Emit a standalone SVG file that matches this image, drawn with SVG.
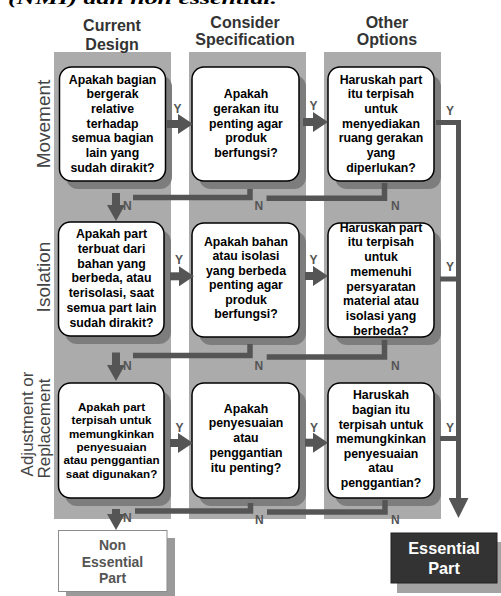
<svg xmlns="http://www.w3.org/2000/svg" width="501" height="596" viewBox="0 0 501 596">
<style>
.col{fill:#ababab}
.hdr{font-family:"Liberation Sans",Arial,sans-serif;font-weight:bold;font-size:16px;fill:#333;text-anchor:middle}
.lane{font-family:"Liberation Sans",Arial,sans-serif;font-size:19px;fill:#444;text-anchor:middle}
.lane2{font-family:"Liberation Sans",Arial,sans-serif;font-size:17px;fill:#444;text-anchor:middle}
.sh{fill:#7d7d7d}
.box{fill:#fff;stroke:#000;stroke-width:1.5}
.t{font-family:"Liberation Sans",Arial,sans-serif;font-weight:bold;font-size:12.3px;fill:#000;text-anchor:middle}
.lbl{font-family:"Liberation Sans",Arial,sans-serif;font-weight:bold;font-size:12px;fill:#555}
.y{stroke:#555;stroke-width:8;fill:none}
.n{stroke:#555;stroke-width:5.5;fill:none}
.e{stroke:#555;stroke-width:5;fill:none}
.cap{font-family:"Liberation Serif","Times New Roman",serif;font-style:italic;font-weight:bold;font-size:17px;fill:#000}
</style>
<defs>
<marker id="ahY" markerUnits="userSpaceOnUse" markerWidth="15" markerHeight="20" refX="1" refY="10" orient="auto"><path d="M0,0 L15,10 L0,20 z" fill="#555"/></marker>
<marker id="ahN" markerUnits="userSpaceOnUse" markerWidth="16" markerHeight="18" refX="1" refY="9" orient="auto"><path d="M0,0 L16,9 L0,18 z" fill="#555"/></marker>
<marker id="ahE" markerUnits="userSpaceOnUse" markerWidth="20" markerHeight="20" refX="1" refY="10" orient="auto"><path d="M0,0 L20,10 L0,20 z" fill="#555"/></marker>
</defs>
<rect width="501" height="596" fill="#fff"/>
<text class="cap" x="8" y="4" textLength="269" lengthAdjust="spacingAndGlyphs">(NMI) dan non essential.</text>

<g id="lanes">
<rect class="col" x="54" y="52" width="117" height="467"/>
<rect class="col" x="189" y="52" width="117" height="467"/>
<rect class="col" x="324" y="52" width="117" height="467"/>
</g>
<g id="headers">
<text class="hdr" x="112" y="31">Current</text>
<text class="hdr" x="112" y="49.5">Design</text>
<text class="hdr" x="245" y="28">Consider</text>
<text class="hdr" x="245" y="45">Specification</text>
<text class="hdr" x="387" y="28">Other</text>
<text class="hdr" x="387" y="45">Options</text>
<text class="lane" transform="translate(50,124) rotate(-90)">Movement</text>
<text class="lane" transform="translate(50,277) rotate(-90)">Isolation</text>
<text class="lane2" transform="translate(33,424) rotate(-90)">Adjustment or</text>
<text class="lane2" transform="translate(50,428.5) rotate(-90)">Replacement</text>
</g>

<g id="r1c1">
<rect class="sh" x="66" y="75" width="106" height="114" rx="12"/>
<rect class="box" x="59.5" y="67" width="106" height="114" rx="12"/>
<text class="t"><tspan x="112.5" y="83.5">Apakah bagian</tspan><tspan x="112.5" y="98.2">bergerak</tspan><tspan x="112.5" y="112.9">relative</tspan><tspan x="112.5" y="127.6">terhadap</tspan><tspan x="112.5" y="142.3">semua bagian</tspan><tspan x="112.5" y="157">lain yang</tspan><tspan x="112.5" y="171.7">sudah dirakit?</tspan></text>
</g>
<g id="r1c2">
<rect class="sh" x="199" y="75" width="107" height="114" rx="12"/>
<rect class="box" x="192" y="67" width="107" height="114" rx="12"/>
<text class="t"><tspan x="246" y="98.3">Apakah</tspan><tspan x="246" y="113">gerakan itu</tspan><tspan x="246" y="127.7">penting agar</tspan><tspan x="246" y="142.4">produk</tspan><tspan x="246" y="157.1">berfungsi?</tspan></text>
</g>
<g id="r1c3">
<rect class="sh" x="335" y="75" width="106" height="114" rx="12"/>
<rect class="box" x="328" y="67" width="106" height="114" rx="12"/>
<text class="t"><tspan x="381" y="83.5">Haruskah part</tspan><tspan x="381" y="98.2">itu terpisah</tspan><tspan x="381" y="112.9">untuk</tspan><tspan x="381" y="127.6">menyediakan</tspan><tspan x="381" y="142.3">ruang gerakan</tspan><tspan x="381" y="157">yang</tspan><tspan x="381" y="171.7">diperlukan?</tspan></text>
</g>

<g id="r2c1">
<rect class="sh" x="65" y="230" width="106" height="114" rx="12"/>
<rect class="box" x="58.5" y="222" width="105.5" height="114" rx="12"/>
<text class="t"><tspan x="111.5" y="238">Apakah part</tspan><tspan x="111.5" y="252.8">terbuat dari</tspan><tspan x="111.5" y="267.6">bahan yang</tspan><tspan x="111.5" y="282.4">berbeda, atau</tspan><tspan x="111.5" y="297.2">terisolasi, saat</tspan><tspan x="111.5" y="312">semua part lain</tspan><tspan x="111.5" y="326.8">sudah dirakit?</tspan></text>
</g>
<g id="r2c2">
<rect class="sh" x="199" y="231" width="107" height="114" rx="12"/>
<rect class="box" x="192" y="223" width="107" height="114" rx="12"/>
<text class="t"><tspan x="246" y="245.7">Apakah bahan</tspan><tspan x="246" y="260.2">atau isolasi</tspan><tspan x="246" y="274.7">yang berbeda</tspan><tspan x="246" y="289.2">penting agar</tspan><tspan x="246" y="303.7">produk</tspan><tspan x="246" y="318.2">berfungsi?</tspan></text>
</g>
<g id="r2c3">
<rect class="sh" x="335" y="231" width="106" height="114" rx="12"/>
<rect class="box" x="328" y="223" width="106" height="114" rx="12"/>
<text class="t"><tspan x="381" y="231.7">Haruskah part</tspan><tspan x="381" y="246.45">itu terpisah</tspan><tspan x="381" y="261.2">untuk</tspan><tspan x="381" y="275.95">memenuhi</tspan><tspan x="381" y="290.7">persyaratan</tspan><tspan x="381" y="305.45">material atau</tspan><tspan x="381" y="320.2">isolasi yang</tspan><tspan x="381" y="334.95">berbeda?</tspan></text>
</g>

<g id="r3c1">
<rect class="sh" x="65" y="391" width="106" height="115" rx="12"/>
<rect class="box" x="58.5" y="383" width="105.5" height="115" rx="12"/>
<text class="t" style="font-size:11.6px"><tspan x="111.5" y="411">Apakah part</tspan><tspan x="111.5" y="424.3">terpisah untuk</tspan><tspan x="111.5" y="437.6">memungkinkan</tspan><tspan x="111.5" y="450.9">penyesuaian</tspan><tspan x="111.5" y="464.2">atau penggantian</tspan><tspan x="111.5" y="477.5">saat digunakan?</tspan></text>
</g>
<g id="r3c2">
<rect class="sh" x="199" y="391" width="107" height="115" rx="12"/>
<rect class="box" x="192" y="383" width="107" height="115" rx="12"/>
<text class="t"><tspan x="246" y="412.7">Apakah</tspan><tspan x="246" y="427.45">penyesuaian</tspan><tspan x="246" y="442.2">atau</tspan><tspan x="246" y="456.95">penggantian</tspan><tspan x="246" y="471.7">itu penting?</tspan></text>
</g>
<g id="r3c3">
<rect class="sh" x="335" y="391" width="106" height="115" rx="12"/>
<rect class="box" x="328" y="383" width="106" height="115" rx="12"/>
<text class="t"><tspan x="381" y="399.3">Haruskah</tspan><tspan x="381" y="413.9">bagian itu</tspan><tspan x="381" y="428.5">terpisah untuk</tspan><tspan x="381" y="443.1">memungkinkan</tspan><tspan x="381" y="457.7">penyesuaian</tspan><tspan x="381" y="472.3">atau</tspan><tspan x="381" y="486.9">penggantian?</tspan></text>
</g>

<g id="nonessential">
<rect x="66" y="538" width="109" height="61" fill="#9a9a9a"/>
<rect x="58.5" y="530.5" width="108.5" height="61" fill="#fff" stroke="#8c8c8c" stroke-width="1"/>
<text class="hdr" style="font-size:14px;fill:#555"><tspan x="112.5" y="550">Non</tspan><tspan x="112.5" y="566.7">Essential</tspan><tspan x="112.5" y="582.7">Part</tspan></text>
</g>
<g id="essential">
<rect x="397" y="542" width="106" height="51" fill="#a3a3a3"/>
<rect x="391" y="533" width="106" height="50" fill="#333" stroke="#222" stroke-width="1"/>
<text class="hdr" style="font-size:16.3px;fill:#fff"><tspan x="444" y="554">Essential</tspan><tspan x="444" y="574">Part</tspan></text>
</g>

<g id="connectors">
<line class="y" x1="167" y1="124" x2="179" y2="124" marker-end="url(#ahY)"/>
<line class="y" x1="303" y1="122" x2="314" y2="122" marker-end="url(#ahY)"/>
<line class="y" x1="170" y1="276.3" x2="180" y2="276.3" marker-end="url(#ahY)"/>
<line class="y" x1="305" y1="276" x2="314" y2="276" marker-end="url(#ahY)"/>
<line class="y" x1="170" y1="443" x2="179" y2="443" marker-end="url(#ahY)"/>
<line class="y" x1="305" y1="442.7" x2="314" y2="442.7" marker-end="url(#ahY)"/>

<line class="e" x1="436" y1="122.5" x2="461" y2="122.5"/>
<line class="e" x1="440" y1="279" x2="458.5" y2="279"/>
<line class="e" x1="440" y1="438.5" x2="458.5" y2="438.5"/>
<line class="e" x1="458.5" y1="120" x2="458.5" y2="499" marker-end="url(#ahE)"/>

<path class="n" d="M384.5,183 V198.3 H266.5"/>
<path class="n" d="M250,189 V197.5 H133"/>
<line class="y" x1="116" y1="193" x2="116" y2="206" marker-end="url(#ahN)"/>

<path class="n" d="M384.5,340 V357 H266.7"/>
<path class="n" d="M250,344 V355.5 H133"/>
<line class="y" x1="116" y1="352.5" x2="116" y2="366" marker-end="url(#ahN)"/>

<path class="n" d="M385,500 V512 H267"/>
<path class="n" d="M250.5,503 V511 H135"/>
<line class="y" x1="116" y1="509" x2="116" y2="515" marker-end="url(#ahN)"/>
</g>

<g id="labels">
<text class="lbl" x="177.5" y="113" text-anchor="middle">Y</text>
<text class="lbl" x="313.5" y="110" text-anchor="middle">Y</text>
<text class="lbl" x="450" y="115" text-anchor="middle">Y</text>
<text class="lbl" x="179" y="264" text-anchor="middle">Y</text>
<text class="lbl" x="313.5" y="264" text-anchor="middle">Y</text>
<text class="lbl" x="450" y="270.5" text-anchor="middle">Y</text>
<text class="lbl" x="179.5" y="431.5" text-anchor="middle">Y</text>
<text class="lbl" x="314" y="431.5" text-anchor="middle">Y</text>
<text class="lbl" x="450" y="431.5" text-anchor="middle">Y</text>
<text class="lbl" x="123" y="210">N</text>
<text class="lbl" x="254.5" y="210">N</text>
<text class="lbl" x="391" y="210">N</text>
<text class="lbl" x="123" y="370">N</text>
<text class="lbl" x="254.5" y="370">N</text>
<text class="lbl" x="391" y="370">N</text>
<text class="lbl" x="123" y="522">N</text>
<text class="lbl" x="255" y="524">N</text>
<text class="lbl" x="391" y="524">N</text>
</g>
</svg>
